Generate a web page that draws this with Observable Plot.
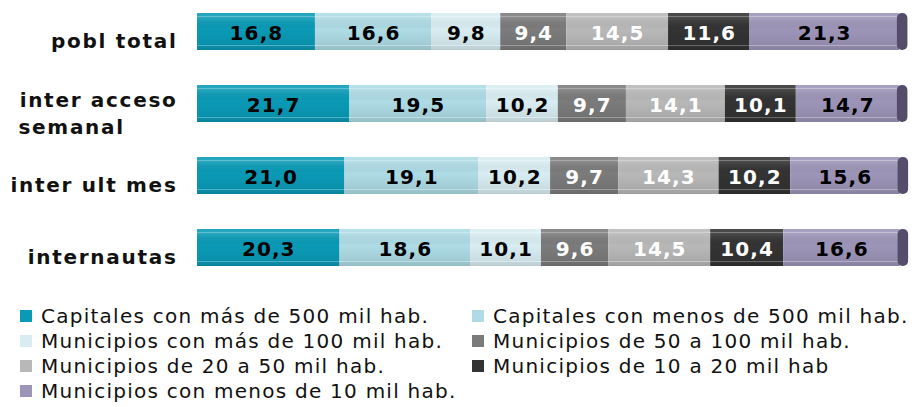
<!DOCTYPE html>
<html><head><meta charset="utf-8">
<script src="https://cdn.jsdelivr.net/npm/d3@7"></script>
<script src="https://cdn.jsdelivr.net/npm/@observablehq/plot@0.6"></script>
<style>
body{margin:0;background:#fff;width:916px;height:407px;overflow:hidden;position:relative;font-family:"DejaVu Sans",Verdana,sans-serif}
#chart svg text{letter-spacing:1.1px}
#chart svg text.ylab{letter-spacing:1.7px}
.item{position:absolute;display:flex;align-items:center;font-family:"DejaVu Sans",Verdana,sans-serif;font-size:20px;letter-spacing:1.25px;color:#111;white-space:nowrap;line-height:24px;height:24px}
.sw{width:12px;height:12px;margin-right:9px;flex:none}
</style></head><body><div id="chart"></div><div id="legend"></div>
<script>
const categories = ["pobl total", "inter acceso\nsemanal", "inter ult mes", "internautas"];
const series = [
  "Capitales con más de 500 mil hab.",
  "Capitales con menos de 500 mil hab.",
  "Municipios con más de 100 mil hab.",
  "Municipios de 50 a 100 mil hab.",
  "Municipios de 20 a 50 mil hab.",
  "Municipios de 10 a 20 mil hab",
  "Municipios con menos de 10 mil hab."
];
const poblTotal      = [16.8, 16.6, 9.8, 9.4, 14.5, 11.6, 21.3];
const interAcceso    = [21.7, 19.5, 10.2, 9.7, 14.1, 10.1, 14.7];
const interUltMes    = [21.0, 19.1, 10.2, 9.7, 14.3, 10.2, 15.6];
const internautas    = [20.3, 18.6, 10.1, 9.6, 14.5, 10.4, 16.6];
const colors = ["#0a9ab6", "#aedbe5", "#d8edf2", "#7b7b7b", "#b8b8b8", "#333333", "#9d95b8"];
const whiteLabelSeries = [3, 4, 5];

const rowValues = [poblTotal, interAcceso, interUltMes, internautas];
const data = [];
categories.forEach((c, i) => series.forEach((s, j) => data.push({cat: c, series: s, value: rowValues[i][j], j})));
const totals = categories.map((c, i) => ({cat: c, total: d3.sum(rowValues[i])}));
const fmt = v => v.toFixed(1).replace(".", ",");
const isWhite = d => whiteLabelSeries.includes(d.j);

const plot = Plot.plot({
  width: 916, height: 300,
  marginLeft: 197, marginRight: 17, marginTop: 0, marginBottom: 0,
  x: {domain: [0, 100], axis: null},
  y: {domain: categories, range: [-4.5, 283.5], paddingInner: 0.486, paddingOuter: 0.243, axis: null},
  color: {domain: series, range: colors},
  style: {fontFamily: "DejaVu Sans", fontSize: "20px", background: "white", overflow: "visible"},
  marks: [
    Plot.barX(data, Plot.stackX({x: "value", y: "cat", fill: "series"})),
    Plot.barX(data, Plot.stackX({x: "value", y: "cat", fill: "url(#shade)"})),
    Plot.barX(totals, {x1: d => d.total - 0.3, x2: d => d.total + 1.2, y: "cat", fill: "#544c6a", rx: 5}),
    Plot.text(data, Plot.stackX({x: "value", y: "cat", text: d => isWhite(d) ? "" : fmt(d.value), fill: "#000", fontWeight: "bold", fontSize: 20, dy: 2})),
    Plot.text(data, Plot.stackX({x: "value", y: "cat", text: d => isWhite(d) ? fmt(d.value) : "", fill: "#fff", fontWeight: "bold", fontSize: 20, dy: 2})),
    Plot.text(categories.filter(c => !c.includes("\n")), {x: () => 0, y: d => d, text: d => d, textAnchor: "end", dx: -20, dy: 10, fontWeight: "bold", fontSize: 20, fill: "#111"}),
    Plot.text(categories.filter(c => c.includes("\n")), {x: () => 0, y: d => d, text: d => d.split("\n")[0], textAnchor: "end", dx: -20, dy: -3, fontWeight: "bold", fontSize: 20, fill: "#111"}),
    Plot.text(categories.filter(c => c.includes("\n")), {x: () => 0, y: d => d, text: d => d.split("\n")[1], textAnchor: "start", dx: -179, dy: 24, fontWeight: "bold", fontSize: 20, fill: "#111"})
  ]
});

const svg = d3.select(plot);
const labelLines = new Set(categories.flatMap(c => c.split("\n")));
svg.selectAll("text").filter(function() { return labelLines.has(this.textContent); }).classed("ylab", true);
const defs = svg.insert("defs", ":first-child");
const grad = defs.append("linearGradient").attr("id", "shade").attr("x1", 0).attr("y1", 0).attr("x2", 0).attr("y2", 1);
[
  [0, "#fff", 0.10], [0.07, "#fff", 0.12], [0.09, "#fff", 0.40], [0.12, "#fff", 0.12],
  [0.45, "#000", 0.0], [0.80, "#000", 0.06], [0.86, "#000", 0.08], [0.88, "#fff", 0.30],
  [0.91, "#000", 0.10], [1, "#000", 0.14]
].forEach(([o, c, a]) => grad.append("stop").attr("offset", o).attr("stop-color", c).attr("stop-opacity", a));
document.getElementById("chart").appendChild(plot);

const legend = document.getElementById("legend");
const colX = [20, 472];
const rowY = [304, 329, 354, 379];
series.forEach((s, i) => {
  const it = document.createElement("div");
  it.className = "item";
  it.style.left = colX[i % 2] + "px";
  it.style.top = rowY[Math.floor(i / 2)] + "px";
  const sw = document.createElement("span");
  sw.className = "sw";
  sw.style.background = colors[i];
  const tx = document.createElement("span");
  tx.textContent = s;
  it.appendChild(sw); it.appendChild(tx);
  legend.appendChild(it);
});
</script></body></html>
